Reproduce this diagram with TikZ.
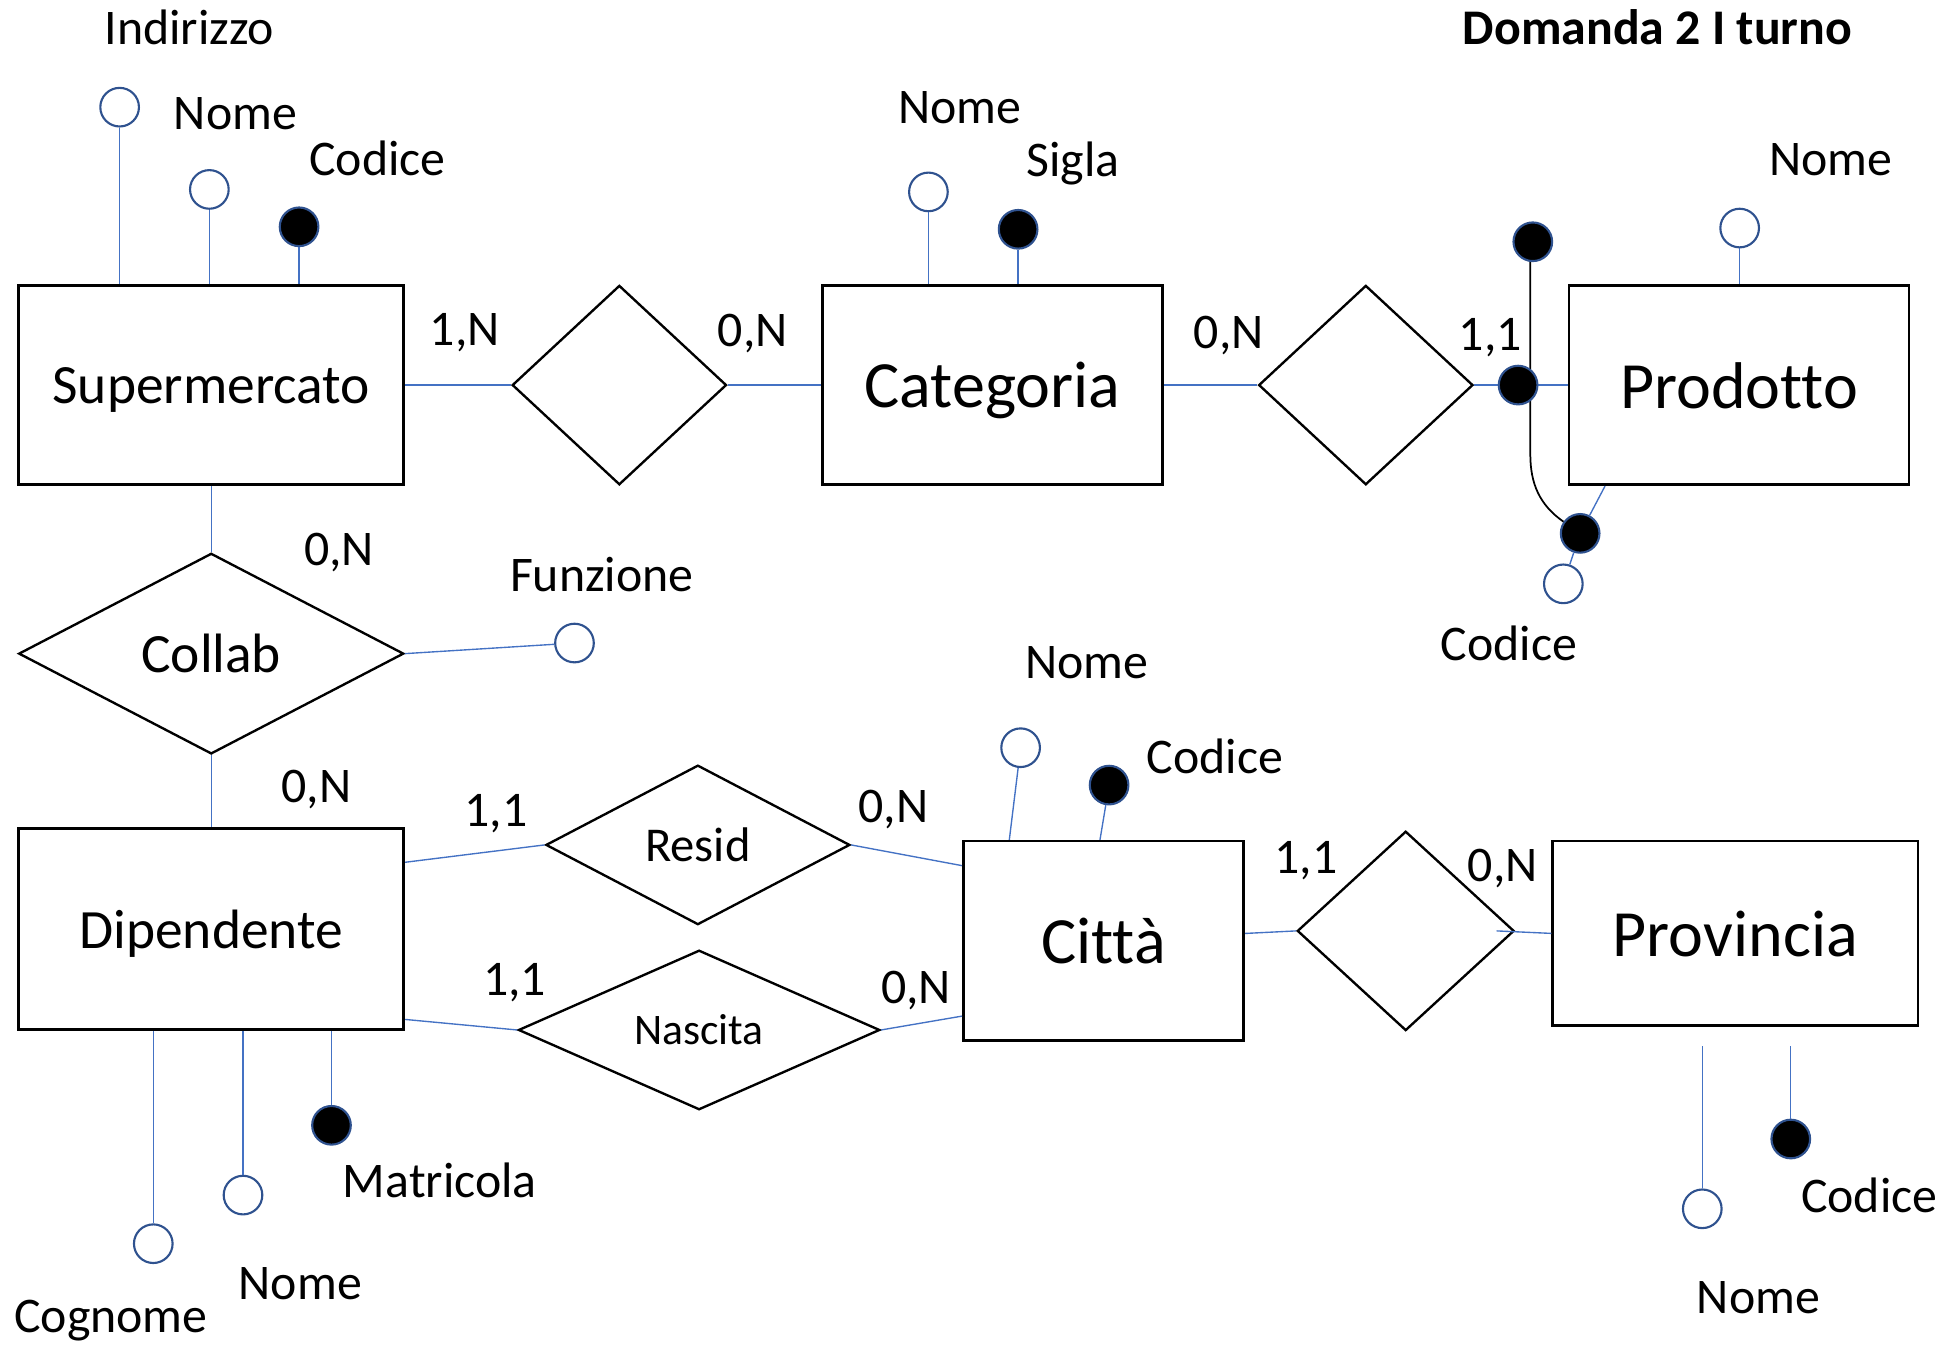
\documentclass[tikz,border=0pt]{standalone}
\usepackage{fontspec}
\setmainfont{Carlito}[Ligatures=NoCommon]
\usepackage{tikz}
\usetikzlibrary{calc, positioning, shapes.geometric}
\definecolor{linkblue}{HTML}{4472C4}
\definecolor{ringblue}{HTML}{2F528F}
\tikzset{ entity/.style = {draw, line width=2.1pt, inner sep=0pt, minimum height=160pt, text depth=0pt, font=\fontsize{53}{60}\selectfont},
  relation/.style = {draw, diamond, line width=1.9pt, inner sep=0pt, text depth=0pt, font=\fontsize{44.5}{50}\selectfont},
  attr/.style = {draw=ringblue, circle, line width=1.7pt, fill=white, minimum size=31pt, inner sep=0pt},
  keyattr/.style = {attr, fill=black},
  link/.style = {draw=linkblue, line width=1.1pt},
  lbl/.style = {inner sep=0pt, text depth=0pt, font=\fontsize{40}{48}\selectfont} }

\begin{document}
\begin{tikzpicture}[x=1pt, y=-1pt]
  \useasboundingbox (0,0) rectangle (1568,1079.3);

  % entita
  \node[entity, minimum width=309pt, font=\fontsize{44.5}{50}\selectfont] (sup) at (169.5,309) {Supermercato};
  \node[entity, minimum width=273pt] (cat) at (796.5,309) {Categoria};
  \node[entity, minimum width=273pt] (prod) at (1395.5,309) {Prodotto};
  \node[entity, minimum width=309pt, minimum height=161pt, font=\fontsize{44.5}{50}\selectfont] (dip) at (169.5,745.5) {Dipendente};
  \node[entity, minimum width=225pt] (cit) at (885.5,755) {Città};
  \node[entity, minimum width=293pt, minimum height=148pt] (prov) at (1392.5,749) {Provincia};

  % relazioni
  \node[relation, minimum width=172pt, minimum height=160pt] (rsc) at (497,309) {};
  \node[relation, minimum width=172pt, minimum height=160pt] (rcp) at (1096,309) {};
  \node[relation, minimum width=309pt, minimum height=161pt] (collab) at (169.5,524.5) {Collab};
  \node[relation, minimum width=244pt, minimum height=128pt, font=\fontsize{39}{46}\selectfont] (resid) at (560,678) {Resid};
  \node[relation, minimum width=290pt, minimum height=127pt, font=\fontsize{35}{42}\selectfont] (nasc) at (561,826.5) {Nascita};
  \node[relation, minimum width=174pt, minimum height=160pt] (rcpr) at (1128,747) {};

  % attributi
  \node[attr] (sind) at (96,86) {};
  \node[attr] (snom) at (168,152) {};
  \node[keyattr] (scod) at (240,182) {};
  \node[attr] (cnom) at (745,154) {};
  \node[keyattr] (csig) at (817,184) {};
  \node[attr] (pnom) at (1396,183) {};
  \node[keyattr] (pk1) at (1230,194) {};
  \node[keyattr] (pk2) at (1268,428) {};
  \node[attr] (pcod) at (1254.5,468.5) {};
  \node[attr] (fun) at (461,516) {};
  \node[attr] (tnom) at (819,600) {};
  \node[keyattr] (tcod) at (890,630) {};
  \node[attr] (dcog) at (123,998) {};
  \node[attr] (dnom) at (195,959) {};
  \node[keyattr] (dmat) at (266,903) {};
  \node[attr] (vnom) at (1366,970) {};
  \node[keyattr] (vcod) at (1437,914) {};

  % collegamenti
  \draw[link] (sind) -- (sind |- sup.north);
  \draw[link] (snom) -- (snom |- sup.north);
  \draw[link] (scod) -- (scod |- sup.north);
  \draw[link] (cnom) -- (cnom |- cat.north);
  \draw[link] (csig) -- (csig |- cat.north);
  \draw[link] (pnom) -- (pnom |- prod.north);
  \draw[link] (sup.east) -- (rsc.west);
  \draw[link] (rsc.east) -- (cat.west);
  \draw[link] (cat.east) -- (rcp.west);
  \draw[line width=1.4pt] (pk1.south) ++(-2,0) -- ++(0,154) to[out=-90, in=145] (pk2);
  \draw[link] (rcp.east) -- (prod.west) node[keyattr, pos=0.47] (pk0) {};
  \draw[link] (pk2) -- (prod.217);
  \draw[link] (pcod) -- (pk2);
  \draw[link] (sup.south) -- (collab.north);
  \draw[link] (collab.south) -- (dip.north);
  \draw[link] (collab.east) -- (fun);
  \draw[link] (dip.19) -- (resid.west);
  \draw[link] (resid.east) -- (cit.152);
  \draw[link] (dip.-25) -- (nasc.west);
  \draw[link] (nasc.east) -- (cit.208);
  \draw[link] (cit.3) -- (rcpr.west);
  \draw[link] ($(rcpr.east)+(-15,0)$) -- (prov.west);
  \draw[link] (tnom) -- (cit.133);
  \draw[link] (tcod) -- (cit.92);
  \draw[link] (dcog) -- (dcog |- dip.south);
  \draw[link] (dnom) -- (dnom |- dip.south);
  \draw[link] (dmat) -- (dmat |- dip.south);
  \draw[link] (vnom) -- ($(vnom |- prov.south)+(0,15)$);
  \draw[link] (vcod) -- ($(vcod |- prov.south)+(0,15)$);

  % etichette
  \node[lbl, font=\fontsize{40}{48}\selectfont\bfseries] (title) at (1330,22) {Domanda 2 I turno};
  \node[lbl] (lsind) at (152,22) {Indirizzo};
  \node[lbl] (lsnom) at (189,91) {Nome};
  \node[lbl] (lscod) at (303,127) {Codice};
  \node[lbl] (lcnom) at (770,86) {Nome};
  \node[lbl] (lcsig) at (861,128) {Sigla};
  \node[lbl] (lpnom) at (1469,128) {Nome};
  \node[lbl] (lpcod) at (1211,516) {Codice};
  \node[lbl] (lfun) at (483,461) {Funzione};
  \node[lbl] (ltnom) at (872,532) {Nome};
  \node[lbl] (ltcod) at (975,607) {Codice};
  \node[lbl] (ldmat) at (353,947) {Matricola};
  \node[lbl] (ldnom) at (241,1030) {Nome};
  \node[lbl] (ldcog) at (89,1056) {Cognome};
  \node[lbl] (lvcod) at (1500,959) {Codice};
  \node[lbl] (lvnom) at (1411,1041) {Nome};
  % cardinalita
  \node[lbl] (c1) at (373,264) {1,N};
  \node[lbl] (c2) at (604,265) {0,N};
  \node[lbl] (c3) at (986,267) {0,N};
  \node[lbl] (c4) at (1196,268) {1,1};
  \node[lbl] (c5) at (272,441) {0,N};
  \node[lbl] (c6) at (254,631) {0,N};
  \node[lbl] (c7) at (398,650) {1,1};
  \node[lbl] (c8) at (717,647) {0,N};
  \node[lbl] (c9) at (413,786) {1,1};
  \node[lbl] (c10) at (735,792) {0,N};
  \node[lbl] (c11) at (1048,688) {1,1};
  \node[lbl] (c12) at (1206,694) {0,N};
\end{tikzpicture}
\end{document}
